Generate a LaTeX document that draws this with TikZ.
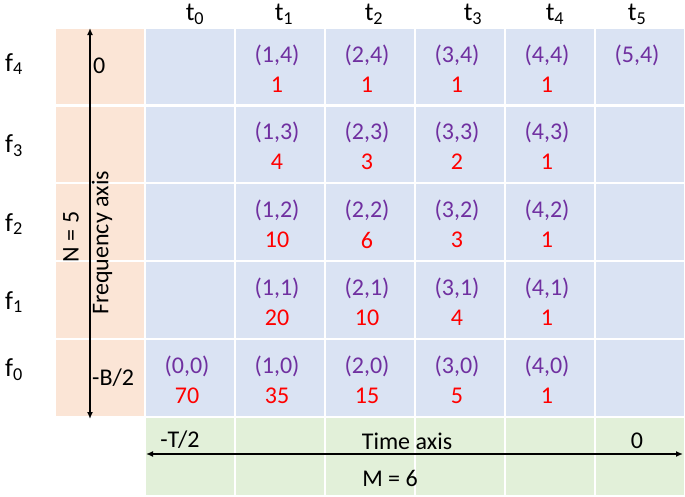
\documentclass[tikz,border=0pt]{standalone}
\usepackage{fontspec}
\setmainfont{Carlito}
\usetikzlibrary{arrows.meta}
\definecolor{cellblue}{HTML}{DAE3F3}
\definecolor{cellorange}{HTML}{FBE5D6}
\definecolor{cellgreen}{HTML}{E2F0D9}
\definecolor{idxpurple}{HTML}{7030A0}
\definecolor{valred}{HTML}{FF0000}
\tikzset{
  bluecell/.style={fill=cellblue,draw=white,line width=1.2pt},
  orangecell/.style={fill=cellorange,draw=white,line width=1.2pt},
  greencell/.style={fill=cellgreen,draw=white,line width=1.2pt},
  idx/.style={text=idxpurple,font=\fontsize{24}{28}\selectfont,inner sep=0pt},
  val/.style={text=valred,font=\fontsize{24}{28}\selectfont,inner sep=0pt},
  lbl/.style={font=\fontsize{26}{30}\selectfont,inner sep=0pt},
  axtxt/.style={font=\fontsize{24}{28}\selectfont,inner sep=0pt},
  axarrow/.style={line width=1.6pt,{Latex[length=7pt,width=6pt]}-{Latex[length=7pt,width=6pt]}}
}
\begin{document}
\begin{tikzpicture}[x=1pt,y=-1pt]
\useasboundingbox (0,0) rectangle (685,496);
% orange column
\foreach \y/\h in {28/105,105/183,183/261,261/339,339/417}
  \fill[orangecell] (55,\y) rectangle (145,\h);
% blue cells
\foreach \i in {0,...,5}{
  \foreach \y/\h in {28/105,105/183,183/261,261/339,339/417}{
    \pgfmathsetmacro{\xa}{145+90*\i}
    \pgfmathsetmacro{\xb}{235+90*\i}
    \filldraw[bluecell] (\xa,\y) rectangle (\xb,\h);
  }
}
% green cells
\foreach \i in {0,...,5}{
  \pgfmathsetmacro{\xa}{145+90*\i}
  \pgfmathsetmacro{\xb}{235+90*\i}
  \filldraw[greencell] (\xa,417) rectangle (\xb,496);
}
\foreach \h in {183,261,339}
  \draw[white,line width=1.2pt] (55,\h) -- (145,\h);
\draw[white,line width=3pt] (55,105) -- (685,105);
\draw[white,line width=2.5pt] (145,417) -- (685,417);
% column labels
\node[lbl] (t0) at (195,14) {t\textsubscript{0}};
\node[lbl] (t1) at (284,14) {t\textsubscript{1}};
\node[lbl] (t2) at (374,14) {t\textsubscript{2}};
\node[lbl] (t3) at (473,14) {t\textsubscript{3}};
\node[lbl] (t4) at (555,14) {t\textsubscript{4}};
\node[lbl] (t5) at (637,14) {t\textsubscript{5}};
% row labels
\node[lbl] (f4) at (14,64) {f\textsubscript{4}};
\node[lbl] (f3) at (14,146) {f\textsubscript{3}};
\node[lbl] (f2) at (14,224) {f\textsubscript{2}};
\node[lbl] (f1) at (14,302) {f\textsubscript{1}};
\node[lbl] (f0) at (14,370) {f\textsubscript{0}};
% cells text anchors
\foreach \j/\y in {4/28,3/105,2/183,1/261,0/339}{
  \foreach \i in {0,...,5}{
    \pgfmathsetmacro{\xc}{187+90*\i}
    \coordinate (c\i\j) at (\xc,\y);
  }
}
\tikzset{ia/.style={yshift=-27pt},va/.style={yshift=-57pt}}
\node[idx] (i14) at ([ia]c14) {(1,4)}; \node[val] (v14) at ([va]c14) {1};
\node[idx] (i24) at ([ia]c24) {(2,4)}; \node[val] (v24) at ([va]c24) {1};
\node[idx] (i34) at ([ia]c34) {(3,4)}; \node[val] (v34) at ([va]c34) {1};
\node[idx] (i44) at ([ia]c44) {(4,4)}; \node[val] (v44) at ([va]c44) {1};
\node[idx] (i54) at ([ia]c54) {(5,4)};
\node[idx] (i13) at ([ia]c13) {(1,3)}; \node[val] (v13) at ([va]c13) {4};
\node[idx] (i23) at ([ia]c23) {(2,3)}; \node[val] (v23) at ([va]c23) {3};
\node[idx] (i33) at ([ia]c33) {(3,3)}; \node[val] (v33) at ([va]c33) {2};
\node[idx] (i43) at ([ia]c43) {(4,3)}; \node[val] (v43) at ([va]c43) {1};
\node[idx] (i12) at ([ia]c12) {(1,2)}; \node[val] (v12) at ([va]c12) {10};
\node[idx] (i22) at ([ia]c22) {(2,2)}; \node[val] (v22) at ([va]c22) {6};
\node[idx] (i32) at ([ia]c32) {(3,2)}; \node[val] (v32) at ([va]c32) {3};
\node[idx] (i42) at ([ia]c42) {(4,2)}; \node[val] (v42) at ([va]c42) {1};
\node[idx] (i11) at ([ia]c11) {(1,1)}; \node[val] (v11) at ([va]c11) {20};
\node[idx] (i21) at ([ia]c21) {(2,1)}; \node[val] (v21) at ([va]c21) {10};
\node[idx] (i31) at ([ia]c31) {(3,1)}; \node[val] (v31) at ([va]c31) {4};
\node[idx] (i41) at ([ia]c41) {(4,1)}; \node[val] (v41) at ([va]c41) {1};
\node[idx] (i00) at ([ia]c00) {(0,0)}; \node[val] (v00) at ([va]c00) {70};
\node[idx] (i10) at ([ia]c10) {(1,0)}; \node[val] (v10) at ([va]c10) {35};
\node[idx] (i20) at ([ia]c20) {(2,0)}; \node[val] (v20) at ([va]c20) {15};
\node[idx] (i30) at ([ia]c30) {(3,0)}; \node[val] (v30) at ([va]c30) {5};
\node[idx] (i40) at ([ia]c40) {(4,0)}; \node[val] (v40) at ([va]c40) {1};
% frequency axis
\coordinate (fa) at (90,28);
\coordinate (fb) at (90,419);
\draw[axarrow] (fb) -- (fa);
\node[axtxt,anchor=west] (fzero) at (93,66) {0};
\node[axtxt,anchor=west] (fmin) at (92,378) {-B/2};
\node[axtxt,rotate=90] (faxis) at (102,243) {Frequency axis};
\node[axtxt,rotate=90] (nlbl) at (71,237) {N = 5};
% time axis
\coordinate (ta) at (146,454);
\coordinate (tb) at (683,454);
\draw[axarrow] (ta) -- (tb);
\node[axtxt] (tmin) at (180,440) {-T/2};
\node[axtxt] (taxis) at (407,441) {Time axis};
\node[axtxt] (tzero) at (637,441) {0};
\node[axtxt] (mlbl) at (390,478) {M = 6};
\end{tikzpicture}
\end{document}
